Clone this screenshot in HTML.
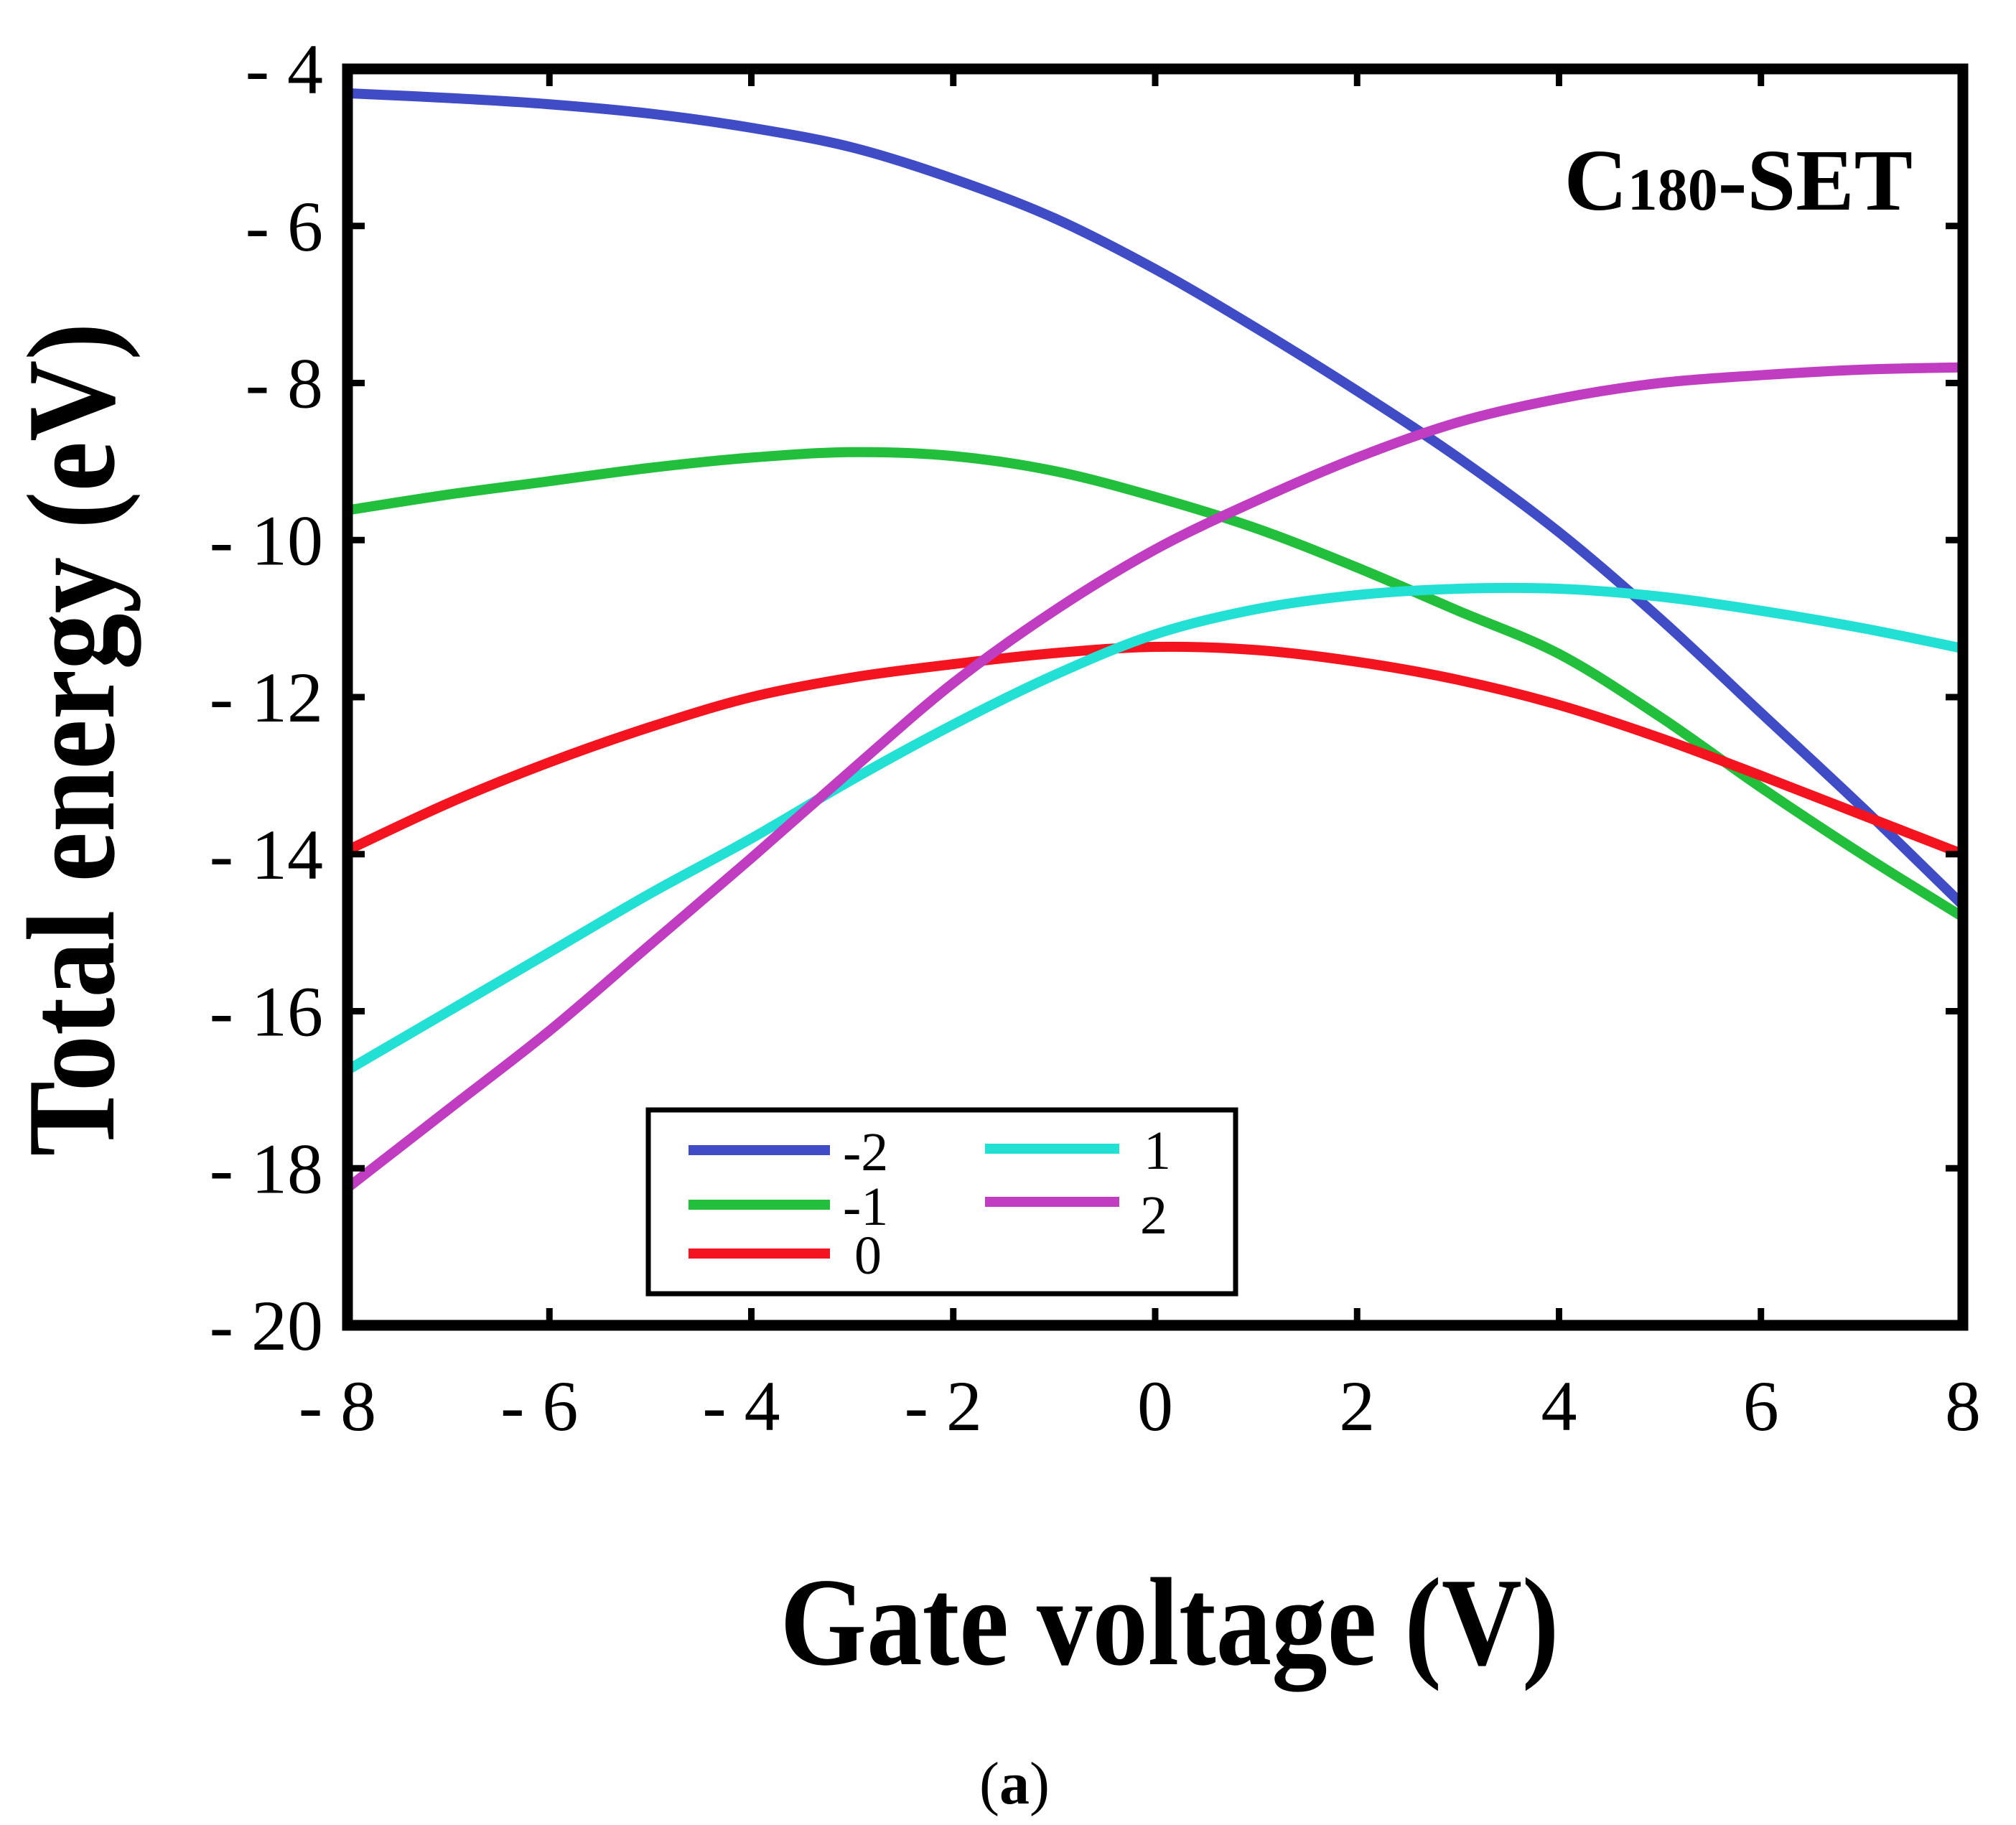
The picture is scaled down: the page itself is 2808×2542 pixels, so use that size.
<!DOCTYPE html>
<html><head><meta charset="utf-8"><style>
body{margin:0;background:#fff}
svg{display:block}
text{font-family:"Liberation Serif",serif}
</style></head><body>
<svg id="chart" width="2808" height="2542" viewBox="0 0 2808 2542" xmlns="http://www.w3.org/2000/svg">
<g id="curves"></g>
<g id="axes"></g>
<text x="2664" y="292" text-anchor="end" font-weight="bold" font-size="122">C<tspan font-size="84">180</tspan>-SET</text>
<text x="1629" y="2318" text-anchor="middle" font-weight="bold" font-size="175" textLength="1085" lengthAdjust="spacingAndGlyphs">Gate voltage (V)</text>
<text transform="translate(158,1030) rotate(-90)" x="0" y="0" text-anchor="middle" font-weight="bold" font-size="175" textLength="1161" lengthAdjust="spacingAndGlyphs">Total energy (eV)</text>
<text x="1413" y="2512" text-anchor="middle" font-size="84">(<tspan font-weight="bold">a</tspan>)</text>
<g id="legend">
<rect x="903" y="1546" width="818" height="256" fill="#fff" stroke="#000" stroke-width="7"/>
</g>
</svg>
<script>
const xValues = [-8,-7,-6,-5,-4,-3,-2,-1,0,1,2,3,4,5,6,7,8];
const seriesM2 = [-4.31,-4.37,-4.45,-4.57,-4.75,-5.0,-5.4,-5.9,-6.55,-7.3,-8.1,-8.95,-9.9,-11.0,-12.2,-13.4,-14.65];
const seriesM1 = [-9.62,-9.42,-9.25,-9.08,-8.95,-8.88,-8.93,-9.12,-9.45,-9.85,-10.35,-10.9,-11.45,-12.25,-13.15,-14.0,-14.8];
const series0 = [-13.95,-13.35,-12.83,-12.38,-12.0,-11.75,-11.58,-11.44,-11.36,-11.4,-11.55,-11.78,-12.1,-12.52,-13.0,-13.5,-14.0];
const series1 = [-16.75,-16.0,-15.25,-14.5,-13.8,-13.05,-12.35,-11.72,-11.2,-10.88,-10.7,-10.62,-10.62,-10.72,-10.9,-11.12,-11.38];
const series2 = [-18.25,-17.25,-16.25,-15.15,-14.05,-12.92,-11.82,-10.9,-10.12,-9.5,-8.95,-8.5,-8.2,-8.0,-7.9,-7.83,-7.8];
const xTicks = [-8,-6,-4,-2,0,2,4,6,8];
const yTicks = [-4,-6,-8,-10,-12,-14,-16,-18,-20];
const seriesNames = ["-2","-1","0","1","2"];

const NS="http://www.w3.org/2000/svg";
const L=484,R=2734,T=96,B=1846;
const xs=v=>L+(v+8)/16*(R-L);
const ys=v=>T+(-4-v)/16*(B-T);
function mk(tag,parent){const e=document.createElementNS(NS,tag);parent.appendChild(e);return e;}
const curves=document.getElementById('curves'),axes=document.getElementById('axes'),legend=document.getElementById('legend');
const colors=["#3f4cc6","#22bf3c","#f4141f","#22e0d4","#c03cc0"];
const allSeries=[seriesM2,seriesM1,series0,series1,series2];
function pathFor(arr){
  const p=xValues.map((x,i)=>[xs(x),ys(arr[i])]);
  let d="M"+p[0][0]+","+p[0][1];
  for(let i=0;i<p.length-1;i++){
    const p0=p[Math.max(0,i-1)],p1=p[i],p2=p[i+1],p3=p[Math.min(p.length-1,i+2)];
    const c1=[p1[0]+(p2[0]-p0[0])/6,p1[1]+(p2[1]-p0[1])/6];
    const c2=[p2[0]-(p3[0]-p1[0])/6,p2[1]-(p3[1]-p1[1])/6];
    d+=" C"+c1+" "+c2+" "+p2;
  }
  return d;
}
allSeries.forEach((s,i)=>{
  const e=mk('path',curves);
  
  
  e.setAttribute('d',pathFor(s));e.setAttribute('fill','none');
  e.setAttribute('stroke',colors[i]);e.setAttribute('stroke-width','14');
});
const fr=mk('rect',axes);


fr.setAttribute('x',L);fr.setAttribute('y',T);fr.setAttribute('width',R-L);fr.setAttribute('height',B-T);
fr.setAttribute('fill','none');fr.setAttribute('stroke','#000');fr.setAttribute('stroke-width','15');
function lbl(v){return String(v).replace('-','- ');}
xTicks.forEach(v=>{
  const x=xs(v);
  [[B,B-24],[T,T+24]].forEach(([a,b])=>{const t=mk('line',axes);
    
    
    t.setAttribute('x1',x);t.setAttribute('x2',x);t.setAttribute('y1',a);t.setAttribute('y2',b);t.setAttribute('stroke','#000');t.setAttribute('stroke-width','9');});
  const lb=mk('text',axes);
  
  
  lb.setAttribute('x',v<0?x-14:x);lb.setAttribute('y',1992);lb.setAttribute('text-anchor','middle');lb.setAttribute('font-size','100');
  lb.textContent=lbl(v);
});
yTicks.forEach(v=>{
  const y=ys(v);
  [[L,L+24],[R,R-24]].forEach(([a,b])=>{const t=mk('line',axes);
    
    
    t.setAttribute('x1',a);t.setAttribute('x2',b);t.setAttribute('y1',y);t.setAttribute('y2',y);t.setAttribute('stroke','#000');t.setAttribute('stroke-width','9');});
  const lb=mk('text',axes);
  
  
  lb.setAttribute('x',450);lb.setAttribute('y',y+34);lb.setAttribute('text-anchor','end');lb.setAttribute('font-size','100');
  lb.textContent=lbl(v);
});
const legPos=[[959,1156,1602,1174],[959,1156,1678,1174],[959,1156,1746,1190],[1372,1559,1600,1593],[1372,1559,1674,1588]];
legPos.forEach((p,i)=>{
  const ln=mk('line',legend);
  
  
  ln.setAttribute('x1',p[0]);ln.setAttribute('x2',p[1]);ln.setAttribute('y1',p[2]);ln.setAttribute('y2',p[2]);
  ln.setAttribute('stroke',colors[i]);ln.setAttribute('stroke-width','14');
  const t=mk('text',legend);
  
  
  t.setAttribute('x',p[3]);t.setAttribute('y',p[2]+(i===4?44:28));t.setAttribute('font-size','76');
  t.textContent=seriesNames[i];
});
</script>
</body></html>
